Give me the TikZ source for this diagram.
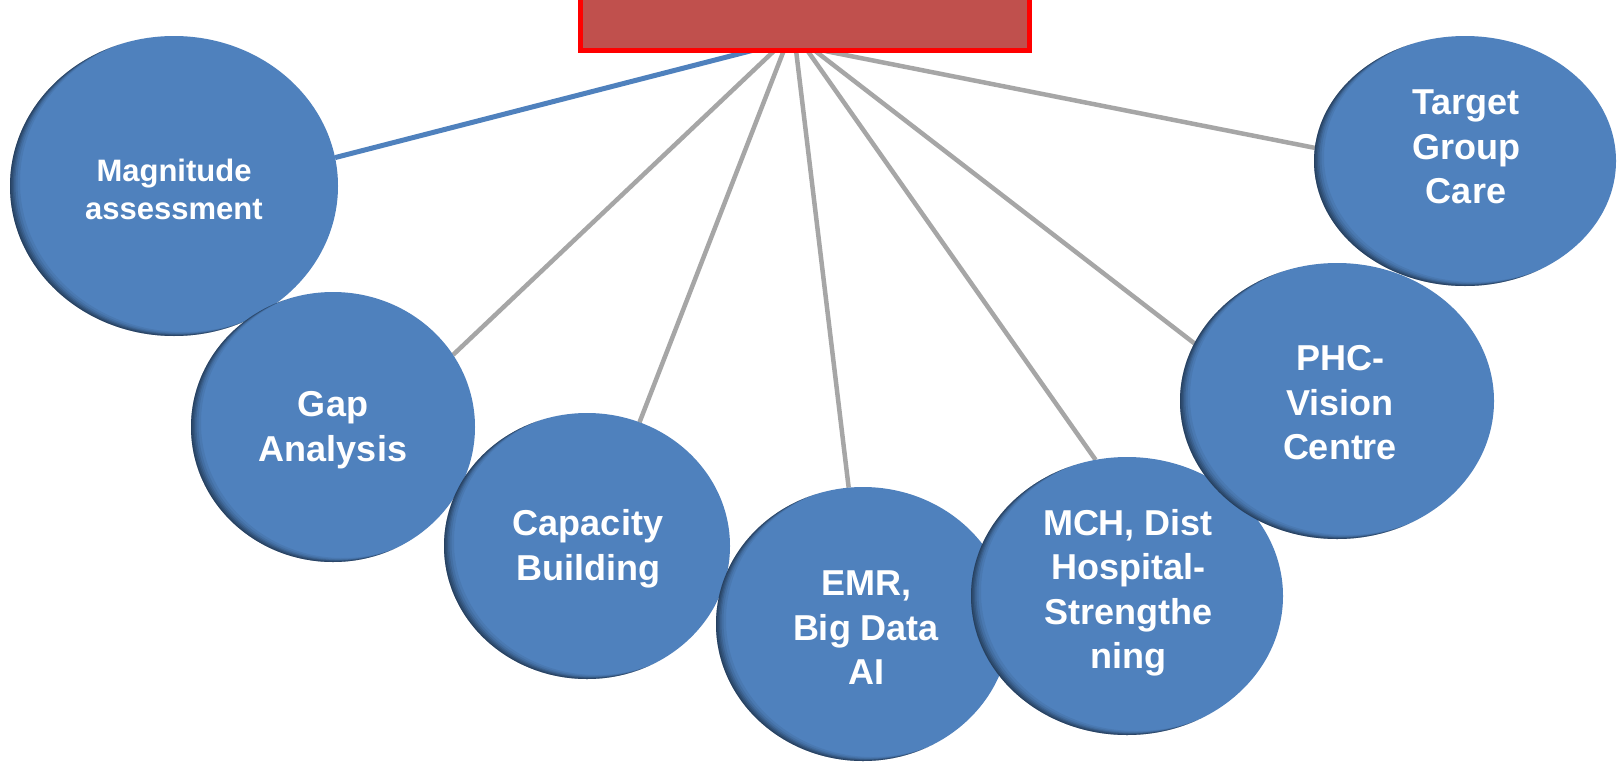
\documentclass[tikz,border=0pt]{standalone}
\usepackage{fontspec}
\setmainfont{Liberation Sans}
\usetikzlibrary{shapes.geometric,calc}
\definecolor{eblue}{HTML}{4F81BD}
\definecolor{boxred}{HTML}{C0504D}
\definecolor{lgray}{HTML}{A6A6A6}
\pgfdeclarelayer{back}
\pgfdeclarelayer{bg}
\pgfsetlayers{back,bg,main}
\tikzset{
  innershadow/.style={path picture={
    \foreach \s/\o in {1/0.13,2.5/0.13,4/0.12,5.5/0.1,7.5/0.08,10/0.06}{
      \fill[black, opacity=\o, even odd rule]
        let \p1=(path picture bounding box.north east),
            \p2=(path picture bounding box.center) in
        (\x2-\x1-30pt, \y2-\y1-30pt) rectangle (\x1+30pt, \y1+30pt)
        (\x2+\s*1pt, \y2+0.4*\s*1pt) ellipse [x radius=\x1-\x2, y radius=\y1-\y2];
    }
  }},
  ell/.style n args={2}{ellipse, fill=eblue, inner sep=0pt, outer sep=0pt,
    minimum width=#1pt, minimum height=#2pt, innershadow},
  lbl/.style={text=white, font=\fontsize{36}{44.5}\selectfont\bfseries,
    align=center, inner sep=0pt},
  grayline/.style={draw=lgray, line width=4.5pt},
  blueline/.style={draw=eblue, line width=5pt},
  topbox/.style={draw=red, line width=5pt, fill=boxred, outer sep=0pt,
    minimum width=449pt, minimum height=140pt, anchor=south},
}
\begin{document}
\begin{tikzpicture}[x=1pt,y=-1pt]
\useasboundingbox (0,0) rectangle (1619,763);
\begin{pgfonlayer}{back}
\fill[white] (0,0) rectangle (1619,763);
\end{pgfonlayer}

\node[topbox] (top) at (805,50.5) {};

\node[ell={328}{300}] (mag) at (174,186) {};
\node[ell={284}{270}] (gap) at (333,427) {};
\node[ell={286}{266}] (cap) at (587,546) {};
\node[ell={294}{274}] (emr) at (863,624) {};
\node[ell={312}{278}] (mch) at (1127,596) {};
\node[ell={314}{276}] (phc) at (1337,401) {};
\node[ell={302}{250}] (tgt) at (1465,161) {};

\node[lbl, font=\fontsize{31}{38}\selectfont\bfseries] (magt) at (174,189) {Magnitude\\assessment};
\node[lbl] (gapt) at (333,430) {Gap\\Analysis};
\node[lbl] (capt) at (588,549) {Capacity\\Building};
\node[lbl] (emrt) at (866,628) {EMR,\\Big Data\\AI};
\node[lbl] (mcht) at (1128,593) {MCH, Dist\\Hospital-\\Strengthe\\ning};
\node[lbl] (phct) at (1340,403) {PHC-\\Vision\\Centre};
\node[lbl] (tgtt) at (1466,147) {Target\\Group\\Care};

\coordinate (s1) at (754,50);
\coordinate (s2) at (775,50);
\coordinate (s3) at (784,50);
\coordinate (s4) at (796,50);
\coordinate (s5) at (807,50);
\coordinate (s6) at (814,50);
\coordinate (s7) at (820,50);

\begin{pgfonlayer}{bg}
\draw[blueline] (s1) -- (mag.10.8);
\draw[grayline] (s2) -- (gap.31.7);
\draw[grayline] (s3) -- (cap.67.2);
\draw[grayline] (s4) -- (emr.96.7);
\draw[grayline] (s5) -- (mch.103.7);
\draw[grayline] (s6) -- (phc.158);
\draw[grayline] (s7) -- (tgt.175);
\end{pgfonlayer}
\end{tikzpicture}
\end{document}
